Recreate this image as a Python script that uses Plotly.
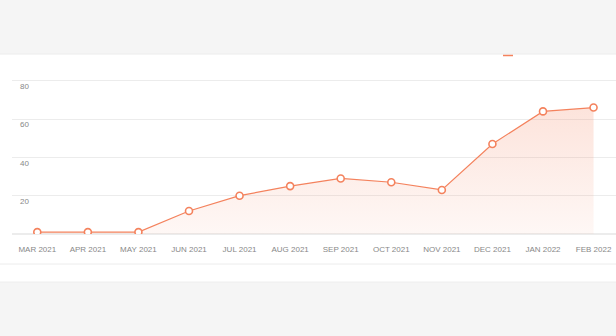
import plotly.graph_objects as go

months = ["MAR 2021", "APR 2021", "MAY 2021", "JUN 2021", "JUL 2021", "AUG 2021",
          "SEP 2021", "OCT 2021", "NOV 2021", "DEC 2021", "JAN 2022", "FEB 2022"]
values = [1, 1, 1, 12, 20, 25, 29, 27, 23, 47, 64, 66]
ytick_vals = [20, 40, 60, 80]

ORANGE = "#f4825d"

fig = go.Figure()
fig.add_trace(go.Scatter(
    x=months, y=values, mode="lines+markers",
    line=dict(color=ORANGE, width=1.2),
    marker=dict(size=7, color="white", line=dict(color=ORANGE, width=1.6)),
    fill="tozeroy",
    fillgradient=dict(type="vertical",
                      colorscale=[[0, "rgba(244,130,93,0.06)"], [1, "rgba(244,130,93,0.22)"]]),
    showlegend=False, hoverinfo="x+y",
))

L, T, B = 12, 60, 102
H = 336 - T - B  # 174
W = 616 - L
step = 50.57

def py(p):
    return (336 - B - p) / H

def px(p):
    return (p - L) / W

shapes = [
    dict(type="rect", xref="paper", yref="paper", x0=px(0), x1=px(616), y0=py(282), y1=py(54),
         fillcolor="white", line=dict(width=0), layer="below"),
    dict(type="line", xref="paper", yref="paper", x0=px(0), x1=px(616), y0=py(54), y1=py(54),
         line=dict(color="#ececec", width=1), layer="below"),
    dict(type="line", xref="paper", yref="paper", x0=px(0), x1=px(616), y0=py(264), y1=py(264),
         line=dict(color="#ececec", width=1), layer="below"),
    dict(type="line", xref="paper", yref="paper", x0=px(0), x1=px(616), y0=py(282), y1=py(282),
         line=dict(color="#eeeeee", width=1), layer="below"),
    dict(type="line", xref="paper", yref="paper", x0=px(503), x1=px(513), y0=py(55.5), y1=py(55.5),
         line=dict(color=ORANGE, width=1.5), layer="above"),
]

fig.update_layout(
    width=616, height=336,
    margin=dict(l=L, r=0, t=T, b=B),
    paper_bgcolor="#f5f5f5",
    plot_bgcolor="rgba(0,0,0,0)",
    font=dict(family="Liberation Sans, Arial, sans-serif", size=8, color="#888888"),
    shapes=shapes,
    xaxis=dict(showgrid=False, zeroline=False, showline=False,
               range=[-0.5, -0.5 + W / step],
               ticks="outside", ticklen=7, tickcolor="rgba(0,0,0,0)",
               tickfont=dict(size=8, color="#888888")),
    yaxis=dict(range=[0, H / 1.916], tickvals=ytick_vals, showgrid=True,
               gridcolor="#ececec", gridwidth=1, zeroline=True, zerolinecolor="#ececec",
               showline=False, ticklabelposition="inside bottom",
               ticklabelstandoff=5,
               tickfont=dict(size=8, color="#888888")),
)

fig.write_html("out.html")
